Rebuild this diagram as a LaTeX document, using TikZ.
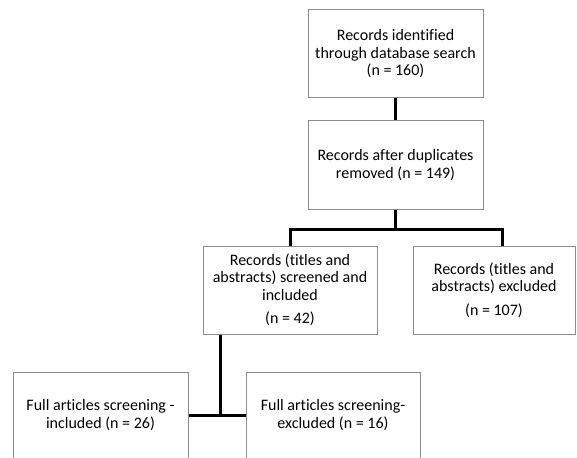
\documentclass[tikz,border=0pt]{standalone}
\usepackage{fontspec}
\setmainfont[Ligatures=NoCommon]{Carlito}
\usepackage{tikz}
\usetikzlibrary{calc, positioning}
\definecolor{boxGray}{gray}{0.55}
\definecolor{lineBlack}{gray}{0.0}

\begin{document}
\begin{tikzpicture}[x=1pt, y=-1pt,
    box/.style={draw=boxGray, line width=1pt, align=center, inner sep=0pt,
        minimum width=175pt, minimum height=88pt,
        font=\fontsize{16}{17.5}\selectfont},
    link/.style={draw=lineBlack, line width=3pt}]
    \useasboundingbox (0,0) rectangle (577,457);
    \clip (0,0) rectangle (577,457);

    \node[box] (ident) at (395.5,54) {Records identified\\through database search\\(n = 160)};
    \node[box] (dupl) at (395.5,165) {Records after duplicates\\removed (n = 149)};
    \node[box, minimum width=174pt] (scrIn) at (290,290) {Records (titles and\\abstracts) screened and\\included\\[6pt](n = 42)};
    \node[box, minimum width=162pt] (scrOut) at (494,290) {Records (titles and\\abstracts) excluded\\[6pt](n = 107)};
    \node[box, minimum height=86pt] (fullIn) at (100.5,415) {Full articles screening -\\included (n = 26)};
    \node[box, minimum width=174pt, minimum height=86pt] (fullOut) at (333,415) {Full articles screening-\\excluded (n = 16)};

    \coordinate (split) at (395.5,229);
    \coordinate (join) at (220,415);

    \draw[link] (ident) -- (dupl);
    \draw[link] (dupl.south) -- (split);
    \draw[link] (scrIn.north) |- (split) -| ([xshift=8pt]scrOut.north);
    \draw[link] (join |- scrIn.south) -- (join);
    \draw[link] (fullIn.east) -- (fullOut.west);
\end{tikzpicture}
\end{document}
